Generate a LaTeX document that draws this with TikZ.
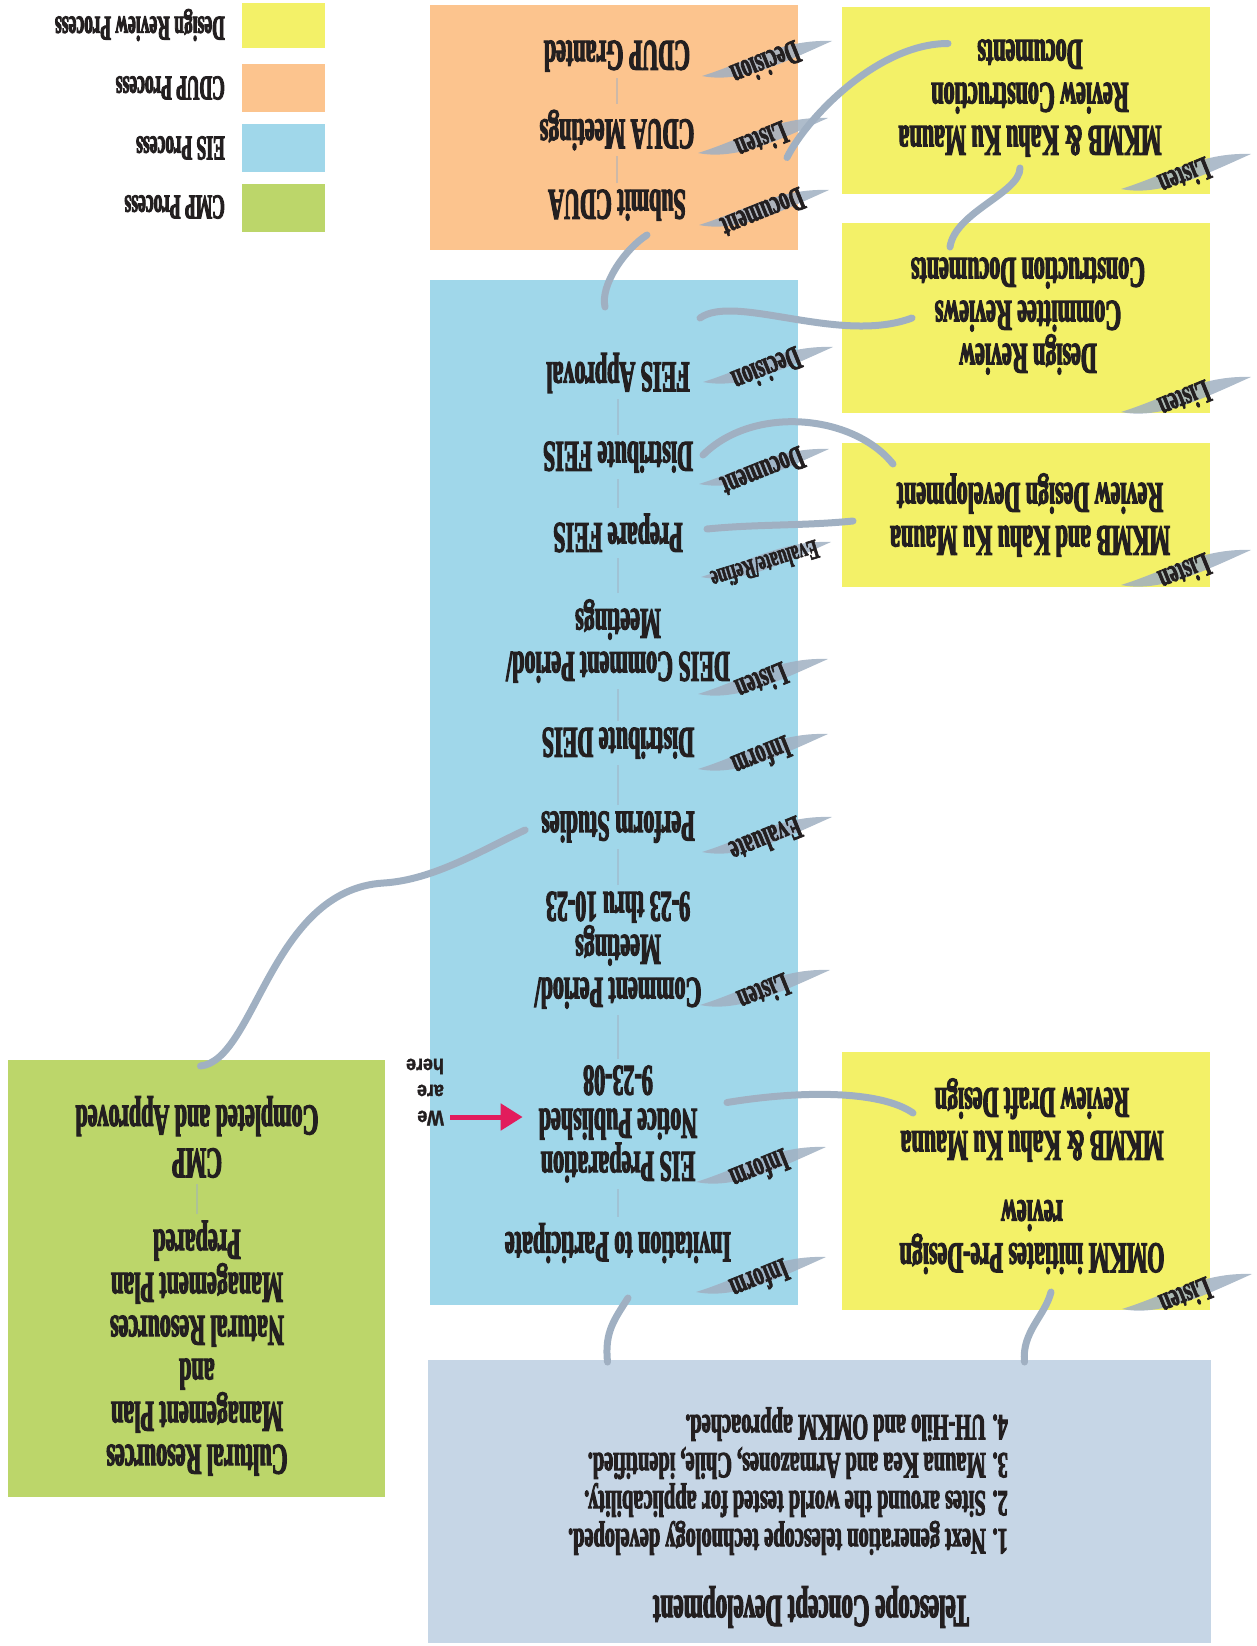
\documentclass[tikz,border=0pt]{standalone}
\usepackage{fontspec}
\setmainfont{Liberation Serif}
\newfontfamily\condfont{Liberation Serif}[FakeStretch=0.5, FakeBold=2.5, UprightFont={* Bold}, BoldFont={* Bold}]
\newfontfamily\listfont{Liberation Serif}[FakeStretch=0.55, FakeBold=2.5, UprightFont={* Bold}, BoldFont={* Bold}]
\newfontfamily\tagfont{Liberation Serif}[FakeStretch=0.58, FakeBold=2, UprightFont={* Bold}, BoldFont={* Bold}]
\newfontfamily\herefont{Liberation Sans}[FakeStretch=0.85, FakeBold=1.5, UprightFont={* Bold}, BoldFont={* Bold}]
\usetikzlibrary{arrows.meta}

\definecolor{drYellow}{RGB}{243,241,104}
\definecolor{cdupOrange}{RGB}{252,196,142}
\definecolor{eisBlue}{RGB}{160,215,234}
\definecolor{cmpGreen}{RGB}{188,214,106}
\definecolor{telGray}{RGB}{198,214,230}
\definecolor{swooshGray}{RGB}{160,176,194}
\definecolor{inkBlack}{RGB}{35,31,32}
\definecolor{hereRed}{RGB}{226,28,92}

\tikzset{
  procbox/.style={inner sep=0pt, outer sep=0pt, minimum width=368pt},
  steptext/.style={rotate=180, align=center, inner sep=2pt, text=inkBlack,
    font=\condfont\fontsize{44}{43}\selectfont},
  legtext/.style={rotate=180, anchor=west, inner sep=0pt, text=inkBlack,
    font=\condfont\fontsize{35}{36}\selectfont},
  tag/.style={rotate=202, inner sep=1pt, text=inkBlack,
    font=\tagfont\fontsize{34}{36}\selectfont},
  link/.style={draw=swooshGray, line width=7pt, line cap=round},
  swoosh/.style={fill=swooshGray, fill opacity=0.85},
  stepline/.style={draw=swooshGray, draw opacity=0.5, line width=2pt, shorten <=4pt, shorten >=4pt},
  herearrow/.style={draw=hereRed, line width=5pt, -{Triangle[length=22pt,width=26pt]}}
}

% tapered stroke behind a side tag
\newcommand{\tagswoosh}[1]{%
  \fill[swoosh] ([shift={(-64,12)}]#1) .. controls +(45,-14) and +(-50,-2) .. ([shift={(66,-23)}]#1)
    .. controls +(-45,20) and +(40,8) .. ([shift={(-64,12)}]#1) -- cycle;}

\begin{document}
\begin{tikzpicture}[x=1pt,y=1pt,yscale=-1,xscale=1]
\useasboundingbox (0,0) rectangle (1256,1646);

%Shape: Rectangle (legend)
\node[procbox, minimum width=83pt, minimum height=45pt, fill=drYellow] (legdr) at (283.5,25.5) {};
\node[procbox, minimum width=83pt, minimum height=48pt, fill=cdupOrange] (legcdup) at (283.5,88) {};
\node[procbox, minimum width=83pt, minimum height=48pt, fill=eisBlue] (legeis) at (283.5,148) {};
\node[procbox, minimum width=83pt, minimum height=48pt, fill=cmpGreen] (legcmp) at (283.5,208) {};

%Shape: Rectangle (process boxes)
\node[procbox, minimum height=245pt, fill=cdupOrange] (cdup) at (614,127.5) {};
\node[procbox, minimum height=1025pt, fill=eisBlue] (eis) at (614,792.5) {};
\node[procbox, minimum height=187pt, fill=drYellow] (drA) at (1026,100.5) {};
\node[procbox, minimum height=190pt, fill=drYellow] (drB) at (1026,318) {};
\node[procbox, minimum height=144pt, fill=drYellow] (drC) at (1026,515) {};
\node[procbox, minimum height=258pt, fill=drYellow] (drD) at (1026,1181) {};
\node[procbox, minimum width=377pt, minimum height=437pt, fill=cmpGreen] (cmp) at (196.5,1278.5) {};
\node[procbox, minimum width=783pt, minimum height=283pt, fill=telGray] (tel) at (819.5,1501.5) {};

%Tag positions
\coordinate (tgcA) at (766,64);
\coordinate (tgcB) at (762,141);
\coordinate (tgcC) at (763,213);
\coordinate (tge1) at (767,370);
\coordinate (tge2) at (763,472);
\coordinate (tge3) at (765,565);
\coordinate (tge4) at (762,682);
\coordinate (tge5) at (762,757);
\coordinate (tge6) at (766,840);
\coordinate (tge7) at (764,993);
\coordinate (tge8) at (760,1170);
\coordinate (tge9) at (760,1280);
\coordinate (tgd1) at (1185,177);
\coordinate (tgd2) at (1185,400);
\coordinate (tgd3) at (1185,573);
\coordinate (tgd4) at (1186,1297);

%Swooshes
\tagswoosh{tgcA} \tagswoosh{tgcB} \tagswoosh{tgcC}
\tagswoosh{tge1} \tagswoosh{tge2} \tagswoosh{tge3}
\tagswoosh{tge4} \tagswoosh{tge5} \tagswoosh{tge6}
\tagswoosh{tge7} \tagswoosh{tge8} \tagswoosh{tge9}
\tagswoosh{tgd1} \tagswoosh{tgd2} \tagswoosh{tgd3} \tagswoosh{tgd4}

% Text Node (legend)
\node[legtext] (legdrt) at (225,25) {Design Review Process};
\node[legtext] (legcdupt) at (225,88) {CDUP Process};
\node[legtext] (legeist) at (225,148) {EIS Process};
\node[legtext] (legcmpt) at (225,207) {CMP Process};

% Text Node (CDUP)
\node[steptext] (grant) at (617,56) {CDUP Granted};
\node[steptext] (meet) at (617,130) {CDUA Meetings};
\node[steptext] (subm) at (617,205) {Submit CDUA};

% Text Node (EIS)
\node[steptext] (feisok) at (618,373) {FEIS Approval};
\node[steptext] (feisdist) at (618,457) {Distribute FEIS};
\node[steptext] (feisprep) at (618,533) {Prepare FEIS};
\node[steptext] (deiscom) at (618,641) {DEIS Comment Period/\\Meetings};
\node[steptext] (deisdist) at (618,743) {Distribute DEIS};
\node[steptext] (studies) at (618,827) {Perform Studies};
\node[steptext] (comment) at (618,950) {Comment Period/\\Meetings\\9-23 thru 10-23};
\node[steptext] (notice) at (618,1124) {EIS Preparation\\Notice Published\\9-23-08};
\node[steptext] (invite) at (618,1243) {Invitation to Participate};

% Text Node (design review)
\node[steptext] (drAt) at (1030,98) {MKMB \& Kahu Ku Mauna\\Review Construction\\Documents};
\node[steptext] (drBt) at (1028,316) {Design Review\\Committee Reviews\\Construction Documents};
\node[steptext] (drCt) at (1030,515) {MKMB and Kahu Ku Mauna\\Review Design Development};
\node[steptext] (drDt) at (1032,1120) {MKMB \& Kahu Ku Mauna\\Review Draft Design};
\node[steptext] (omkm) at (1032,1237) {OMKM initiates Pre-Design\\review};

% Text Node (CMP)
\node[steptext] (cmpprep) at (197,1348) {Cultural Resources\\Management Plan\\and\\Natural Resources\\Management Plan\\Prepared};
\node[steptext] (cmpdone) at (197,1137) {CMP\\Completed and Approved};

% Text Node (telescope)
\node[steptext, font=\condfont\fontsize{46}{46}\selectfont] (teltitle) at (811,1607) {Telescope Concept Development};
\node[steptext, align=left, anchor=west, font=\listfont\fontsize{37}{38}\selectfont] (tellist) at (1010,1481)
  {1. Next generation telescope technology developed.\\2. Sites around the world tested for applicability.\\3. Mauna Kea and Armazones, Chile, identified.\\4. UH-Hilo and OMKM approached.};

% Text Node (tags)
\node[tag] (tcA) at (tgcA) {Decision};
\node[tag] (tcB) at (tgcB) {Listen};
\node[tag] (tcC) at (tgcC) {Document};
\node[tag] (te1) at (tge1) {Decision};
\node[tag] (te2) at (tge2) {Document};
\node[tag, rotate=-5, font=\tagfont\fontsize{28}{30}\selectfont] (te3) at (tge3) {Evaluate/Refine};
\node[tag] (te4) at (tge4) {Listen};
\node[tag] (te5) at (tge5) {Inform};
\node[tag] (te6) at (tge6) {Evaluate};
\node[tag] (te7) at (tge7) {Listen};
\node[tag] (te8) at (tge8) {Inform};
\node[tag] (te9) at (tge9) {Inform};
\node[tag] (td1) at (tgd1) {Listen};
\node[tag] (td2) at (tgd2) {Listen};
\node[tag] (td3) at (tgd3) {Listen};
\node[tag] (td4) at (tgd4) {Listen};

% Text Node (we are here)
\node[rotate=180, align=left, inner sep=0pt, text=inkBlack, font=\herefont\fontsize{21}{26}\selectfont] (wah) at (425,1092) {We\\are\\here};

%Straight Lines (step flow)
\draw[stepline] (subm) -- (meet);
\draw[stepline] (meet) -- (grant);
\draw[stepline] (invite) -- (notice);
\draw[stepline] (notice) -- (comment);
\draw[stepline] (comment) -- (studies);
\draw[stepline] (studies) -- (deisdist);
\draw[stepline] (deisdist) -- (deiscom);
\draw[stepline] (deiscom) -- (feisprep);
\draw[stepline] (feisprep) -- (feisdist);
\draw[stepline] (feisdist) -- (feisok);
\draw[stepline] (cmpprep) -- (cmpdone);

%Curves (links between processes)
\draw[link] ([shift={(-212,2)}]tel.north) .. controls +(-3,-30) and +(-14,22) .. ([shift={(14,-7)}]eis.south);
\draw[link] ([shift={(205,2)}]tel.north) .. controls +(-3,-30) and +(-6,24) .. ([shift={(25,-18)}]drD.south);
\draw[link] ([shift={(71,-68)}]drD.west) .. controls +(-33,-23) and +(73,-12) .. ([shift={(-71,310)}]eis.east);
\draw[link] ([shift={(4,6)}]cmp.north) .. controls +(55,-6) and +(-113,7) .. ++(183,-183)
  .. controls +(50,-3) and +(-43,20) .. ([shift={(-14,3)}]studies.east);
\draw[link] ([shift={(-9,27)}]eis.north) .. controls +(-5,-22) and +(-22,14) .. ([shift={(33,-15)}]cdup.south);
\draw[link] ([shift={(-98,38)}]eis.north east) .. controls +(35,-25) and +(-72,27) .. ([shift={(70,0)}]drB.west);
\draw[link] ([shift={(-6,-26)}]drA.south) .. controls +(0,25) and +(5,-35) .. ([shift={(-76,24)}]drB.north);
\draw[link] ([shift={(106,-57)}]drA.west) .. controls +(-70,0) and +(20,-40) .. ([shift={(-11,30)}]cdup.east);
\draw[link] ([shift={(51,-51)}]drC.west) .. controls +(-40,-50) and +(50,-50) .. ([shift={(-95,175)}]eis.north east);
\draw[link] ([shift={(11,6)}]drC.west) .. controls +(-50,5) and +(50,-5) .. ([shift={(-91,249)}]eis.north east);

%Arrow (we are here)
\draw[herearrow, shorten <=6pt, shorten >=14pt] ([shift={(0,-7)}]wah.west |- notice.east) -- ([shift={(0,-7)}]notice.east);

\end{tikzpicture}
\end{document}
